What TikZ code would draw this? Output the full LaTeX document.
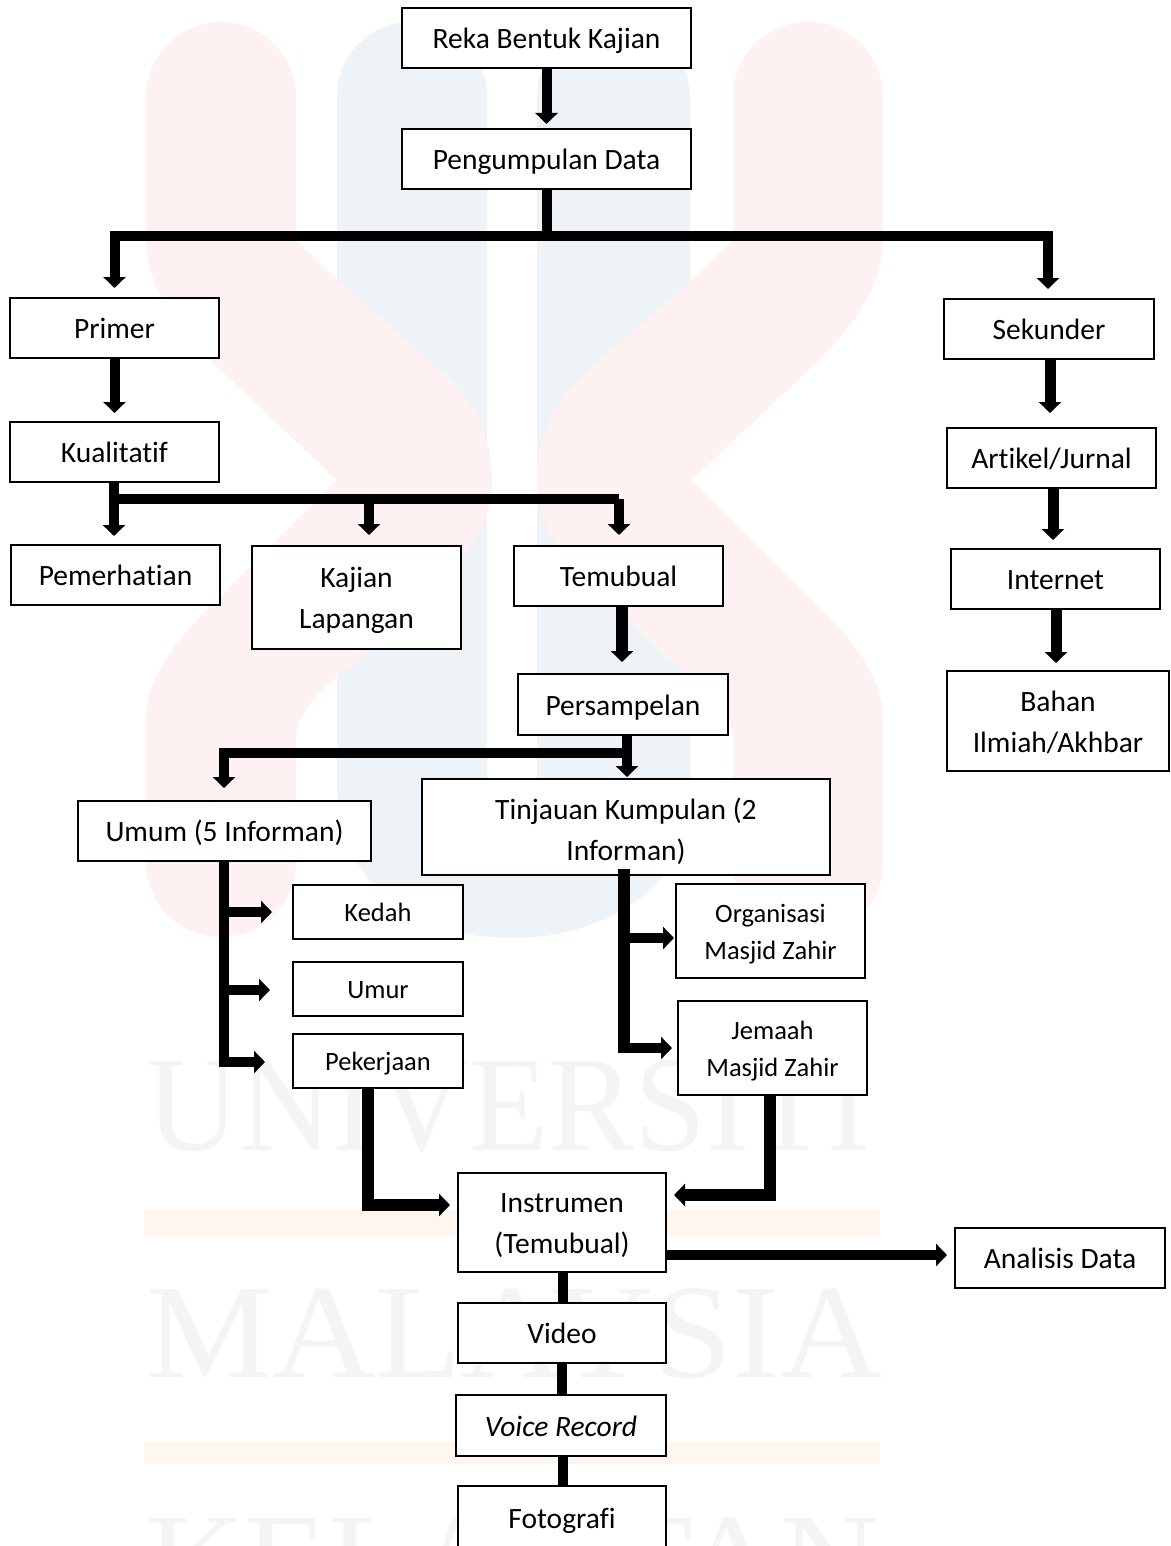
\documentclass[tikz,border=0pt]{standalone}
\usepackage{fontspec}
\setmainfont{Carlito}[Ligatures=NoCommon]
\newfontfamily\wmfont{Liberation Serif}
\usetikzlibrary{arrows.meta,calc}
\definecolor{wred}{HTML}{FDF2F1}
\definecolor{wblue}{HTML}{EEF3F7}
\definecolor{wgray}{HTML}{F4F4F4}
\definecolor{worange}{HTML}{FEF7F0}
\tikzset{
  box/.style={draw=black,fill=white,line width=2pt,inner sep=0pt,align=center,font=\fontsize{29.5}{41}\selectfont},
  smallbox/.style={box,font=\fontsize{26.5}{37}\selectfont},
  conn/.style={line width=#1,draw=black,line join=miter,-{Triangle[width=22pt,length=11pt]}},
  conn/.default=10pt,
  plain/.style={line width=#1,draw=black},
  plain/.default=10pt,
  wm/.style={inner sep=0pt,anchor=base west,text=wgray}
}
\newcommand{\st}{\rule[-0.24\baselineskip]{0pt}{\baselineskip}}
\newcommand{\tst}[1]{\rule[-0.24\baselineskip]{0pt}{\dimexpr\baselineskip+#1\relax}}
\newcommand{\bx}[7][box]{\node[#1,minimum width={(#5-#3)*1pt},minimum height={(#6-#4)*1pt}] (#2) at ({(#3+#5)/2},{(#4+#6)/2}) {#7};}
\newcommand{\redk}{\fill[wred,rounded corners=75pt] (146,120) -- (146,22) -- (296,22) -- (296,120) [sharp corners] -- (296,240) -- (337,280) -- (440,370) .. controls (480,405) and (492,445) .. (492,480) .. controls (492,510) and (480,535) .. (465,553) -- (363,657) .. controls (325,685) and (296,710) .. (296,740) -- (296,800) [rounded corners=75pt] -- (296,937) -- (146,937) -- (146,800) [sharp corners] -- (146,720) .. controls (146,690) and (160,660) .. (197,620) -- (337,480) -- (210,360) .. controls (170,320) and (146,280) .. (146,240) -- cycle;}
\begin{document}
\begin{tikzpicture}[x=1pt,y=-1pt]
\useasboundingbox (0,0) rectangle (1170,1546);
\clip (0,0) rectangle (1170,1546);
% watermark
\fill[white] (0,0) rectangle (1170,1546);
\fill[wblue] (337,97) .. controls (337,55) and (370,22) .. (412,22) .. controls (454,22) and (487,55) .. (487,97) -- (487,860) -- (537,860) -- (537,97) .. controls (537,55) and (571,22) .. (613,22) .. controls (656,22) and (690,55) .. (690,97) -- (690,800) .. controls (690,890) and (600,938) .. (513,938) .. controls (420,938) and (337,890) .. (337,780) -- cycle;
\redk
\begin{scope}[shift={(1029,0)},xscale=-1]
\redk
\end{scope}
\fill[worange] (144,1210) rectangle (880,1236);
\fill[worange] (144,1442) rectangle (880,1464);
\begin{scope}
\clip (140,1000) rectangle (880,1546);
\node[wm] at (146,1150) {\wmfont\fontsize{136}{136}\selectfont\scalebox{0.95}[1]{UNIVERSITI}};
\node[wm] at (146,1377) {\wmfont\fontsize{134}{134}\selectfont\scalebox{1.06}[1]{MALAYSIA}};
\node[wm] at (146,1606) {\wmfont\fontsize{134}{134}\selectfont\scalebox{1.02}[1]{KELANTAN}};
\end{scope}
% boxes
\bx{reka}{402}{8}{691}{68}{\st Reka Bentuk Kajian}
\bx{peng}{402}{129}{691}{189}{\st Pengumpulan Data}
\bx{prim}{10}{298}{219}{358}{\st Primer}
\bx{kual}{10}{422}{219}{482}{\st Kualitatif}
\bx{pem}{11}{545}{220}{605}{\st Pemerhatian}
\bx{kaj}{252}{546}{461}{649}{\st Kajian\\\st Lapangan}
\bx{tem}{514}{546}{723}{606}{\st Temubual}
\bx{per}{518}{674}{728}{735}{\st Persampelan}
\bx{tin}{422}{779}{830}{875}{\tst{4pt}Tinjauan Kumpulan (2\\\st Informan)}
\bx{umum}{78}{801}{371}{861}{\st Umum (5 Informan)}
\bx[smallbox]{ked}{293}{885}{463}{939}{\st Kedah}
\bx[smallbox]{umr}{293}{962}{463}{1016}{\st Umur}
\bx[smallbox]{pek}{293}{1034}{463}{1088}{\st Pekerjaan}
\bx[smallbox]{org}{676}{884}{865}{978}{\st Organisasi\\\st Masjid Zahir}
\bx[smallbox]{jem}{678}{1001}{867}{1095}{\st Jemaah\\\st Masjid Zahir}
\bx{ins}{458}{1173}{666}{1272}{\st Instrumen\\\st (Temubual)}
\bx{vid}{458}{1303}{666}{1363}{\st Video}
\bx{voi}{456}{1395}{666}{1456}{\st\itshape Voice Record}
\bx{fot}{458}{1486}{666}{1549}{\st Fotografi}
\bx{sek}{944}{299}{1154}{359}{\st Sekunder}
\bx{art}{947}{428}{1156}{488}{\st Artikel/Jurnal}
\bx{int}{951}{549}{1160}{609}{\st Internet}
\bx{bah}{947}{671}{1169}{771}{\st Bahan\\\st Ilmiah/Akhbar}
\bx{ana}{955}{1228}{1165}{1288}{\st Analisis Data}
% junction coordinates
\coordinate (j1) at (546.5,236);
\coordinate (j1l) at (114.5,236);
\coordinate (j1r) at (1048,236);
\coordinate (j2) at (114,499);
\coordinate (j2m) at (369,499);
\coordinate (j2r) at (619,499);
\coordinate (j3) at (627,753);
\coordinate (j3l) at (224,753);
\coordinate (j4a) at (224,912);
\coordinate (j4b) at (224,990);
\coordinate (j4c) at (224,1062);
\coordinate (j5) at (624,869);
\coordinate (j5a) at (624,938);
\coordinate (j5b) at (624,1048);
\coordinate (j5e) at (624,1053);
\coordinate (j6) at (368,1205);
\coordinate (j7) at (770,1195);
\coordinate (j8) at (622,606);
\coordinate (j9) at (1050,359);
\coordinate (j10) at (1053,488);
\coordinate (j11) at (1056,609);
\coordinate (j12) at (563,1255);
% connectors
\draw[conn,shorten >=4pt] (reka.south) -- (peng.north);
\draw[plain] (peng.south) -- (j1);
\draw[conn,shorten >=9pt] (j1) -- (j1l) -- (j1l |- prim.north);
\draw[conn,shorten >=9pt] (j1) -- (j1r) -- (j1r |- sek.north);
\draw[conn,shorten >=8pt] (prim.south -| j1l) -- (j1l |- kual.north);
\draw[conn,shorten >=8pt] (j2 |- kual.south) -- (j2 |- pem.north);
\draw[plain] (j2) -- (j2r);
\draw[conn,shorten >=10pt] (j2m) -- (j2m |- kaj.north);
\draw[conn,shorten >=10pt] (j2r |- j2) -- (j2r |- tem.north);
\draw[conn=12pt,shorten >=11pt] (j8) -- (j8 |- per.north);
\draw[conn,shorten >=1pt] (j3 |- per.south) -- (j3 |- tin.north);
\draw[conn,shorten >=12pt] (j3) -- (j3l) -- (j3l |- umum.north);
\draw[plain] (j3l |- umum.south) -- (j4c);
\draw[conn,shorten >=20pt] (j4a) -- (j4a -| ked.west);
\draw[conn,shorten >=22pt] (j4b) -- (j4b -| umr.west);
\draw[conn,shorten >=27pt] ([xshift=-5pt]j4c) -- (j4c -| pek.west);
\draw[plain=12pt] (j5) -- (j5e);
\draw[conn,shorten >=1pt] (j5a) -- (j5a -| org.west);
\draw[conn,shorten >=5pt] (j5b) -- (j5b -| jem.west);
\draw[conn=12pt,shorten >=7pt] (j6 |- pek.south) -- (j6) -- (j6 -| ins.west);
\draw[conn=12pt,shorten >=7pt] (j7 |- jem.south) -- (j7) -- (j7 -| ins.east);
\draw[conn,shorten >=7pt] (j12 -| ins.east) -- (j12 -| ana.west);
\draw[plain] (ins.south -| 563,0) -- (vid.north -| 563,0);
\draw[plain] (vid.south -| 562,0) -- (voi.north -| 562,0);
\draw[plain] (voi.south -| 563,0) -- (fot.north -| 563,0);
\draw[conn=11pt,shorten >=14pt] (j9) -- (j9 |- art.north);
\draw[conn=11pt,shorten >=8pt] (j10) -- (j10 |- int.north);
\draw[conn=11pt,shorten >=7pt] (j11) -- (j11 |- bah.north);
\end{tikzpicture}
\end{document}
